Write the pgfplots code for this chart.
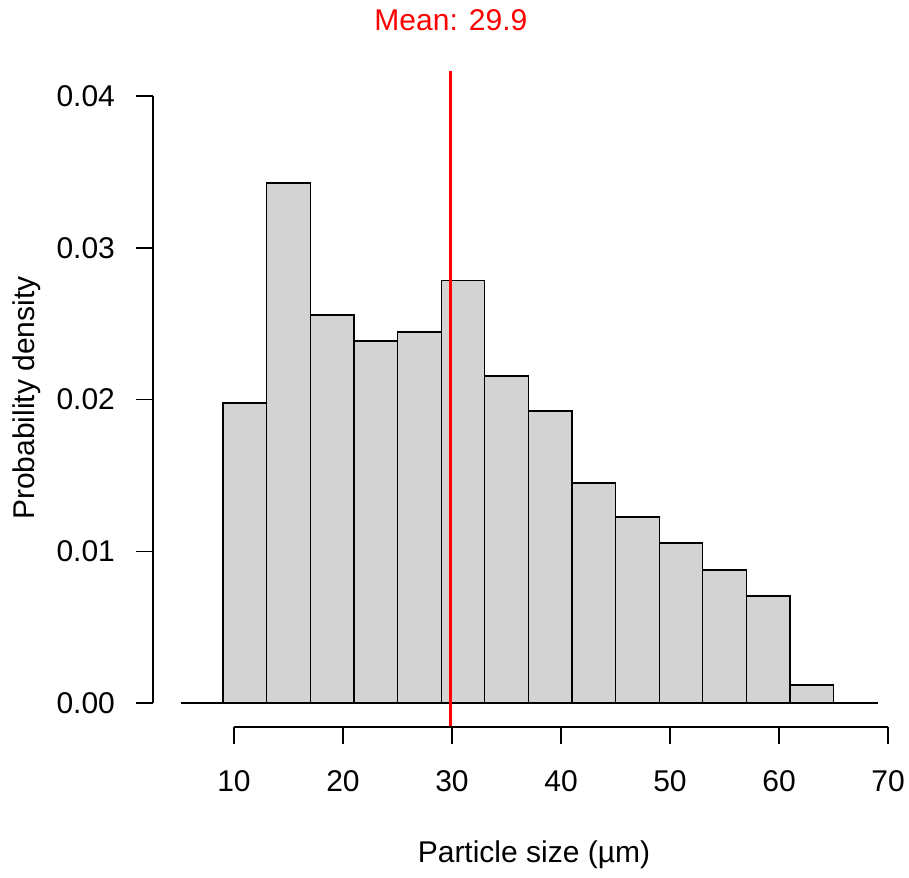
\documentclass[border=0pt]{standalone}
\usepackage{fontspec}
\setmainfont{Liberation Sans}
\usepackage{pgfplots}
\pgfplotsset{compat=1.18}
\definecolor{histfill}{RGB}{211,211,211}

\begin{document}
\begin{tikzpicture}
  \useasboundingbox (-76.5pt,-75pt) rectangle (378pt,363.5pt);
  \begin{axis}[
      at={(0,0)}, anchor=south west,
      scale only axis,
      width=367.5pt, height=328pt,
      xmin=2.569, xmax=70,
      ymin=-0.00158, ymax=0.04165,
      clip=false,
      axis x line=bottom, axis y line=left,
      axis line style={draw=none},
      xtick={10,20,30,40,50,60,70},
      ytick={0,0.01,0.02,0.03,0.04},
      tick align=outside,
      major tick length=8.5pt,
      major tick style={black, line width=0.75pt},
      scaled y ticks=false,
      /pgf/number format/assume math mode=true,
      tick label style={font=\fontsize{15}{18}\selectfont},
      yticklabel style={/pgf/number format/.cd, fixed, fixed zerofill, precision=2},
      xticklabel style={/pgf/number format/.cd, fixed},
      xticklabel shift=9.5pt,
      yticklabel shift=7pt,
    ]
    \addplot[ybar interval, fill=histfill, draw=black, line width=0.6pt]
      coordinates {(9,0.01977)(13,0.03427)(17,0.02557)(21,0.02386)(25,0.02445)
                   (29,0.02787)(33,0.02155)(37,0.01924)(41,0.01450)(45,0.01226)
                   (49,0.01054)(53,0.00876)(57,0.00705)(61,0.00119)(65,0)};
    \addplot[black, line width=0.75pt] coordinates {(5.138,0)(69.083,0)};
    \addplot[red, line width=1.5pt] coordinates {(29.9,-0.00158)(29.9,0.04165)};

    % R-style detached axis lines
    \draw[line width=0.75pt] (axis cs:10,-0.00158) -- (axis cs:70,-0.00158);
    \draw[line width=0.75pt] (axis cs:2.569,0) -- (axis cs:2.569,0.04);

    \node[red, font=\fontsize{15}{18}\selectfont] at (axis cs:29.9,0.04501) {Mean: 29.9};
    \node[font=\fontsize{15}{18}\selectfont] at (axis cs:37.52,-0.01002) {Particle size (µm)};
    \node[rotate=90, font=\fontsize{15}{18}\selectfont] at (axis cs:-8.99,0.0201) {Probability density};
  \end{axis}
\end{tikzpicture}
\end{document}
